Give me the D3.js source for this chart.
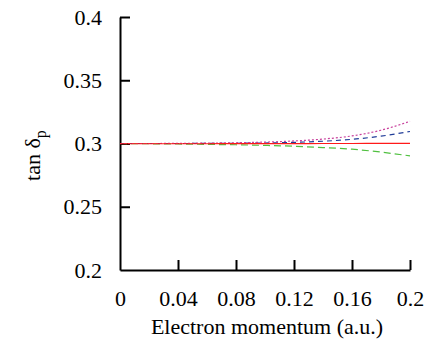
<!DOCTYPE html>
<html>
<head>
<meta charset="utf-8">
<script src="https://cdn.jsdelivr.net/npm/d3@7"></script>
<style>
  body { margin: 0; background: #fff; }
  text { font-family: "Liberation Serif", "DejaVu Serif", serif; }
</style>
</head>
<body>
<div id="chart"></div>
<script>

var momentum = [0, 0.02, 0.04, 0.06, 0.08, 0.1, 0.12, 0.14, 0.16, 0.18, 0.2];
var redVals   = [0.2998, 0.2998, 0.2998, 0.2998, 0.2999, 0.2999, 0.2999, 0.3, 0.3, 0.3001, 0.3001];
var pinkVals  = [0.3, 0.3, 0.3001, 0.3003, 0.3006, 0.3011, 0.302, 0.3035, 0.306, 0.3105, 0.3175];
var blueVals  = [0.3, 0.3, 0.3, 0.3001, 0.3002, 0.3004, 0.3009, 0.3018, 0.3033, 0.3058, 0.3095];
var greenVals = [0.3, 0.2998, 0.2996, 0.2993, 0.299, 0.2985, 0.2978, 0.2968, 0.2955, 0.2932, 0.2902];

var xTicks = [0, 0.04, 0.08, 0.12, 0.16, 0.2];
var yTicks = [0.2, 0.25, 0.3, 0.35, 0.4];

var series = [
  { vals: greenVals, color: "#50c040", dash: "7,4" },
  { vals: blueVals,  color: "#203c98", dash: "5,4" },
  { vals: pinkVals,  color: "#c8409c", dash: "2,2" },
  { vals: redVals,   color: "#ff1a1a", dash: null }
];

var margin = { left: 120, right: 22, top: 17, bottom: 77 };
var width = 432 - margin.left - margin.right;
var height = 347 - margin.top - margin.bottom;

var svg = d3.select("#chart")
  .append("svg")
    .attr("width", 432)
    .attr("height", 347);

var g = svg.append("g")
  .attr("transform", "translate(" + margin.left + "," + margin.top + ")");

var xScale = d3.scaleLinear().domain([0, 0.2]).range([0, width]);
var yScale = d3.scaleLinear().domain([0.2, 0.4]).range([height, 0]);

var xAxis = d3.axisBottom(xScale)
  .tickValues(xTicks)
  .tickSize(-10)
  .tickSizeOuter(0)
  .tickPadding(20)
  .tickFormat(function(d){ return String(+d.toFixed(2)); });

var yAxis = d3.axisLeft(yScale)
  .tickValues(yTicks)
  .tickSize(-10)
  .tickSizeOuter(0)
  .tickPadding(18)
  .tickFormat(function(d){ return String(+d.toFixed(2)); });

var gx = g.append("g")
  .attr("class", "axis")
  .attr("transform", "translate(0," + height + ")")
  .call(xAxis);

var gy = g.append("g")
  .attr("class", "axis")
  .call(yAxis);

// no tick at the corner
gx.selectAll(".tick").filter(function(d){ return d === 0; }).select("line").remove();
gy.selectAll(".tick").filter(function(d){ return d === 0.2; }).select("line").remove();

svg.selectAll(".axis").attr("font-family", null).attr("font-size", null);
svg.selectAll(".axis path, .axis line")
  .attr("stroke", "#000")
  .attr("stroke-width", 2);
svg.selectAll(".axis text")
  .attr("fill", "#000")
  .style("font-family", "'Liberation Serif', serif")
  .style("font-size", "22px");

var line = d3.line()
  .x(function(d, i){ return xScale(momentum[i]); })
  .y(function(d){ return yScale(d); })
  .curve(d3.curveMonotoneX);

g.selectAll(".series")
  .data(series).enter()
  .append("path")
    .attr("class", "series")
    .attr("d", function(s){ return line(s.vals); })
    .attr("fill", "none")
    .attr("stroke", function(s){ return s.color; })
    .attr("stroke-width", 1.2)
    .attr("stroke-dasharray", function(s){ return s.dash; });

svg.append("text")
  .attr("x", margin.left + width / 2 + 2)
  .attr("y", 334)
  .attr("text-anchor", "middle")
  .style("font-size", "22px")
  .text("Electron momentum (a.u.)");

var ylab = svg.append("text")
  .attr("transform", "translate(40," + (margin.top + yScale(0.3) + 12) + ") rotate(-90)")
  .attr("text-anchor", "middle")
  .style("font-size", "22px");
ylab.append("tspan").text("tan \u03b4");
ylab.append("tspan").attr("dy", 6).style("font-size", "16px").text("p");

</script>
</body>
</html>
